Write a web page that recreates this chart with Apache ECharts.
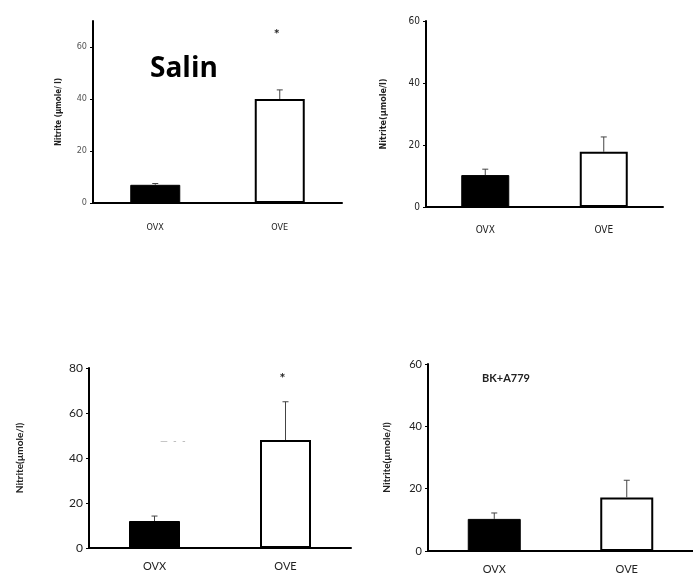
<!DOCTYPE html>
<html>
<head>
<meta charset="utf-8">
<script src="https://cdn.jsdelivr.net/npm/echarts@6/dist/echarts.min.js"></script>
<style>
  html, body { margin: 0; padding: 0; background: #fff; }
  #main { width: 693px; height: 576px; }
</style>
</head>
<body>
<div id="main"></div>
<script>
// groups on every panel
const categories = ['OVX', 'OVE']

// Salin (top left)
const salinMean = [7, 40]
const salinErr = [0.5, 3.5]
const salinStar = [null, 65]

// top right
const topRightMean = [10.3, 17.8]
const topRightErr = [1.9, 4.8]

// bottom left
const bottomLeftMean = [12, 48]
const bottomLeftErr = [2.2, 17]
const bottomLeftStar = [null, 75.5]

// BK+A779 (bottom right)
const bkMean = [10.3, 17.2]
const bkErr = [1.9, 5.5]

const yTicks1 = [0, 20, 40, 60]
const yTicks2 = [0, 20, 40, 60]
const yTicks3 = [0, 20, 40, 60, 80]
const yTicks4 = [0, 20, 40, 60]

const narrow = '"Liberation Sans Narrow", "DejaVu Sans Condensed", "Liberation Sans", sans-serif'
const humanist = 'Lato, "Open Sans", sans-serif'

const chart = echarts.init(document.getElementById('main'))

const panels = [
  { left: 93, top: 21, width: 249, height: 182, max: 70, ticks: yTicks1, name: 'Nitrite (µmole/ l)', nameGap: 30, font: narrow, size: 9, xMargin: 20, barW: 50, mean: salinMean, err: salinErr, star: salinStar, yColor: '#555' },
  { left: 426, top: 21, width: 237, height: 186, max: 60, ticks: yTicks2, name: 'Nitrite(µmole/l)', nameGap: 38, font: narrow, size: 10, xMargin: 18, barW: 48, mean: topRightMean, err: topRightErr, star: null, yColor: '#222' },
  { left: 89, top: 368, width: 262, height: 180, max: 80, ticks: yTicks3, name: 'Nitrite(µmole/l)', nameGap: 64, font: humanist, size: 12, xMargin: 13, barW: 51, mean: bottomLeftMean, err: bottomLeftErr, star: bottomLeftStar, yColor: '#222' },
  { left: 428, top: 364, width: 265, height: 187, max: 60, ticks: yTicks4, name: 'Nitrite(µmole/l)', nameGap: 36, font: humanist, size: 11, xMargin: 13, barW: 53, mean: bkMean, err: bkErr, star: null, yColor: '#222' }
]

const grid = []
const xAxis = []
const yAxis = []
const series = []

panels.forEach((p, i) => {
  grid.push({ left: p.left, top: p.top, width: p.width, height: p.height })
  xAxis.push({
    gridIndex: i,
    type: 'category',
    data: categories,
    axisLine: { lineStyle: { color: '#000', width: 2 } },
    axisTick: { show: false },
    axisLabel: { color: '#222', fontFamily: p.font, fontSize: i === 2 ? 11 : p.size, margin: p.xMargin }
  })
  yAxis.push({
    gridIndex: i,
    type: 'value',
    min: 0,
    max: p.max,
    interval: 20,
    name: p.name,
    nameLocation: 'middle',
    nameGap: p.nameGap,
    nameTextStyle: { color: '#222', fontFamily: p.font, fontSize: i === 2 ? 10 : p.size - 1, fontWeight: 'bold' },
    splitLine: { show: false },
    axisLine: { show: true, lineStyle: { color: '#000', width: 2 } },
    axisTick: { show: true, length: 3, lineStyle: { color: '#000' } },
    axisLabel: {
      color: p.yColor,
      fontFamily: p.font,
      fontSize: p.size,
      margin: 6,
      showMaxLabel: p.ticks.indexOf(p.max) >= 0,
      formatter: v => (p.ticks.indexOf(v) >= 0 ? String(v) : '')
    }
  })
  series.push({
    type: 'bar',
    xAxisIndex: i,
    yAxisIndex: i,
    barWidth: p.barW,
    data: p.mean.map((v, k) => ({
      value: v,
      itemStyle: k === 0
        ? { color: '#000', borderColor: '#000', borderWidth: 1 }
        : { color: '#fff', borderColor: '#000', borderWidth: 2 }
    }))
  })
  series.push({
    type: 'custom',
    xAxisIndex: i,
    yAxisIndex: i,
    z: 5,
    data: p.mean.map((v, k) => [k, v, v + p.err[k]]),
    renderItem: (params, api) => {
      const base = api.coord([api.value(0), api.value(1)])
      const top = api.coord([api.value(0), api.value(2)])
      return {
        type: 'group',
        children: [
          { type: 'line', shape: { x1: base[0], y1: base[1], x2: top[0], y2: top[1] }, style: { stroke: '#444', lineWidth: 1 } },
          { type: 'line', shape: { x1: top[0] - 3, y1: top[1], x2: top[0] + 3, y2: top[1] }, style: { stroke: '#444', lineWidth: 1 } }
        ]
      }
    }
  })
  if (p.star) {
    series.push({
      type: 'custom',
      xAxisIndex: i,
      yAxisIndex: i,
      data: p.star.map((v, k) => [k, v]).filter(d => d[1] !== null),
      renderItem: (params, api) => {
        const pt = api.coord([api.value(0), api.value(1)])
        return {
          type: 'text',
          style: { text: '*', x: pt[0] - 3, y: pt[1], align: 'center', verticalAlign: 'middle', fill: '#222', font: 'bold 14px Lato' }
        }
      }
    })
  }
})

chart.setOption({
  animation: false,
  backgroundColor: '#fff',
  grid,
  xAxis,
  yAxis,
  series,
  graphic: [
    { type: 'text', left: 150, top: 55, style: { text: 'Salin', font: 'bold 28px "Open Sans"', fill: '#000' } },
    { type: 'text', left: 482, top: 373, style: { text: 'BK+A779', font: 'bold 11px Lato', fill: '#222' } },
    { type: 'text', left: 160, top: 436, style: { text: '—  -  -', font: '10px Lato', fill: '#aaa' } }
  ]
})
</script>
</body>
</html>
